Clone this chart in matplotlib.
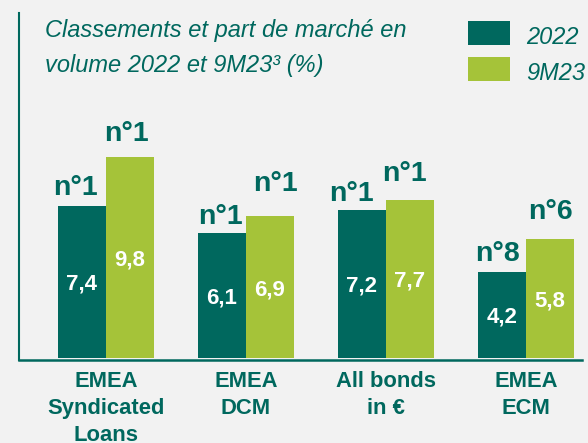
import matplotlib
matplotlib.use('Agg')
import matplotlib.pyplot as plt
import numpy as np

# data
categories = ['EMEA\nSyndicated\nLoans', 'EMEA\nDCM', 'All bonds\nin €', 'EMEA\nECM']
share_2022 = [7.4, 6.1, 7.2, 4.2]
share_9m23 = [9.8, 6.9, 7.7, 5.8]
rank_2022 = ['n°1', 'n°1', 'n°1', 'n°8']
rank_9m23 = ['n°1', 'n°1', 'n°1', 'n°6']
series_labels = ['2022', '9M23']

DARK = '#00685E'
LIGHT = '#A5C339'
BG = '#F2F2F2'

plt.rcParams['font.family'] = ['Liberation Sans', 'DejaVu Sans']

W, H = 588, 443
fig = plt.figure(figsize=(W / 100, H / 100), dpi=100, facecolor=BG)

def fx(px):
    return px / W

def fy(py):
    return 1 - py / H

ax = fig.add_axes([fx(19), fy(358), fx(582 - 19), (358 - 13) / H])
ax.set_facecolor(BG)

x = np.arange(len(categories))
bw = 0.343
b1 = ax.bar(x - bw / 2, share_2022, bw, color=DARK, linewidth=0)
b2 = ax.bar(x + bw / 2, share_9m23, bw, color=LIGHT, linewidth=0)

ax.set_xlim(-0.621, 3.4)
ax.set_ylim(0, 345 / 20.56)

for s in ['top', 'right']:
    ax.spines[s].set_visible(False)
ax.spines['bottom'].set_position(('outward', 1.5))
ax.spines['bottom'].set_color(DARK)
ax.spines['bottom'].set_linewidth(1.8)
ax.spines['left'].set_color(DARK)
ax.spines['left'].set_linewidth(1.5)
ax.spines['left'].set_bounds(-0.12, 345 / 20.56)
ax.set_xticks([])
ax.set_yticks([])

# value labels inside the bars
for bars, vals in [(b1, share_2022), (b2, share_9m23)]:
    for b, v in zip(bars, vals):
        ax.annotate(f'{v:.1f}'.replace('.', ','),
                    (b.get_x() + b.get_width() / 2, v / 2),
                    xytext=(0, -8), textcoords='offset pixels',
                    ha='center', va='baseline', color='white',
                    fontsize=16, fontweight='bold')

# rank labels above the bars (small per-label nudges as in the original)
dx_dark = [-6.5, -2, -11, -4]
dy_dark = [11, 9, 9, 11]
dx_light = [-3.5, 5.5, -5.5, 0]
dy_light = [16, 25, 19, 20]
for bars, vals, ranks, dxs, dys in [(b1, share_2022, rank_2022, dx_dark, dy_dark),
                                     (b2, share_9m23, rank_9m23, dx_light, dy_light)]:
    for b, v, r, dx, dy in zip(bars, vals, ranks, dxs, dys):
        ax.annotate(r, (b.get_x() + b.get_width() / 2, v),
                    xytext=(dx, dy), textcoords='offset pixels',
                    ha='center', va='baseline', color=DARK,
                    fontsize=20.5, fontweight='bold')

# category labels
for xi, cat in zip(x, categories):
    ax.annotate(cat, (xi, 0), xytext=(0, -13), textcoords='offset pixels',
                ha='center', va='top', color=DARK, fontsize=15.8,
                fontweight='bold', linespacing=1.36)

# title
fig.text(fx(45), fy(36.7), 'Classements et part de marché en',
         style='italic', fontsize=17, color=DARK, va='baseline')
fig.text(fx(45), fy(71.7), 'volume 2022 et 9M23³ (%)',
         style='italic', fontsize=17, color=DARK, va='baseline')

# legend
for i, (lab, col) in enumerate(zip(series_labels, [DARK, LIGHT])):
    top = 21 + i * 36
    fig.patches.append(plt.Rectangle((fx(467.5), fy(top + 24)), fx(42), 24 / H,
                                     transform=fig.transFigure, color=col, lw=0))
    fig.text(fx(526), fy(top + 23), lab, style='italic',
             fontsize=17, color=DARK, va='baseline')

fig.savefig('out.png', dpi=100, facecolor=BG)
